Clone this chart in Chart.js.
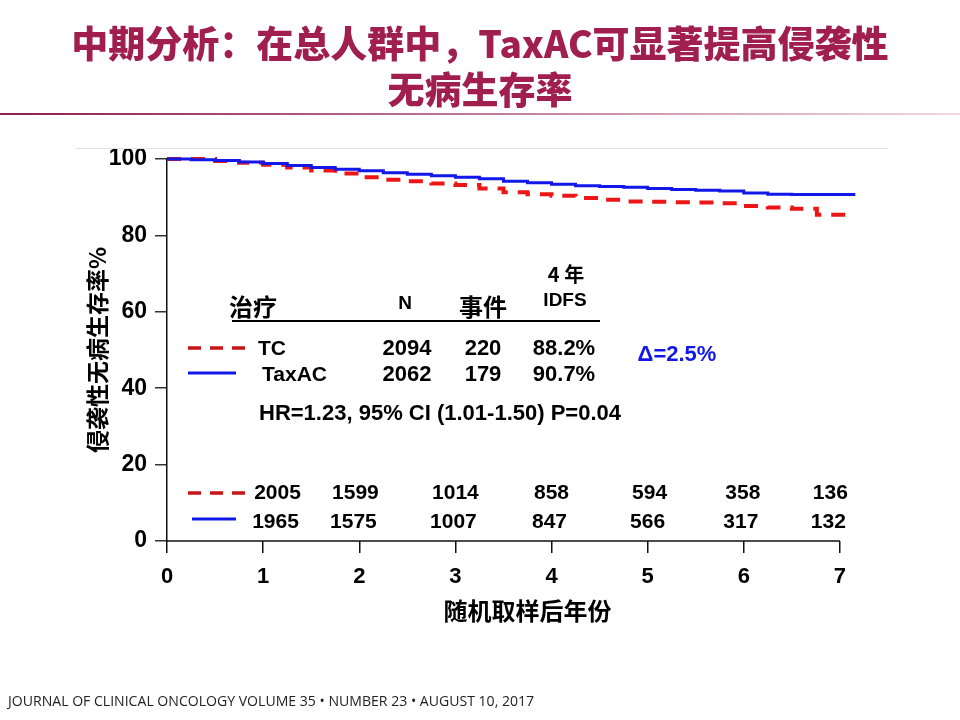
<!DOCTYPE html>
<html>
<head>
<meta charset="utf-8">
<script src="https://cdn.jsdelivr.net/npm/chart.js@4.4.1/dist/chart.umd.min.js"></script>
<style>
  body { margin: 0; width: 960px; height: 720px; overflow: hidden; background: #fff; position: relative; }
  #wrap { position: absolute; left: 0; top: 0; width: 960px; height: 720px; }
  .t { position: absolute; white-space: nowrap; transform: translate(-50%, -50%); font-family: "Liberation Sans", Arial, sans-serif; font-weight: bold; color: #000; font-size: 21px; z-index: 2; }
  .cjk { font-family: "Noto Sans CJK SC", sans-serif; font-weight: 900; }
  .title { color: #a01f4e; font-size: 37px; }
  #rule { position: absolute; left: 0; top: 113px; width: 960px; height: 2px; background: linear-gradient(to right, #8e1d50, #f2d6e4); }
  #foot { position: absolute; left: 8px; top: 690px; font-family: "Open Sans", sans-serif; font-size: 15px; color: #222; white-space: nowrap; transform-origin: 0 0; }
</style>
</head>
<body>
<div id="wrap"><canvas id="c" width="960" height="720"></canvas></div>
<div id="rule"></div>
<div id="foot">JOURNAL OF CLINICAL ONCOLOGY VOLUME 35 • NUMBER 23 • AUGUST 10, 2017</div>
<script>
// Kaplan-Meier curves (years, IDFS %)
const taxacTime = [0, 0.25, 0.5, 0.75, 1.0, 1.25, 1.5, 1.75, 2.0, 2.25, 2.5, 2.75, 3.0, 3.25, 3.5, 3.75, 4.0, 4.25, 4.5, 4.75, 5.0, 5.25, 5.5, 5.75, 6.0, 6.25, 6.5, 7.16];
const taxacSurv = [100, 99.8, 99.6, 99.2, 98.8, 98.3, 97.8, 97.3, 96.9, 96.4, 96.0, 95.6, 95.2, 94.8, 94.2, 93.8, 93.4, 93.0, 92.8, 92.6, 92.3, 92.0, 91.8, 91.6, 91.1, 90.8, 90.7, 90.7];
const tcTime = [0, 0.25, 0.5, 0.75, 1.0, 1.25, 1.5, 1.75, 2.0, 2.25, 2.5, 2.75, 3.0, 3.25, 3.5, 3.75, 4.0, 4.25, 4.5, 4.75, 5.0, 5.25, 5.5, 5.75, 6.0, 6.25, 6.5, 6.76, 7.14];
const tcSurv = [100, 100, 99.5, 99.0, 98.5, 97.8, 97.0, 96.2, 95.2, 94.6, 94.2, 93.6, 93.2, 92.3, 91.3, 90.8, 90.4, 89.8, 89.3, 88.9, 88.8, 88.7, 88.6, 88.4, 87.7, 87.3, 87.0, 85.4, 85.4];

const xTicks = [0, 1, 2, 3, 4, 5, 6, 7];
const yTicks = [0, 20, 40, 60, 80, 100];

// numbers at risk
const atRiskTC = [2005, 1599, 1014, 858, 594, 358, 136];
const atRiskTaxAC = [1965, 1575, 1007, 847, 566, 317, 132];
const atRiskAt = [1.15, 1.96, 3.0, 4.0, 5.02, 5.99, 6.9];

// summary table
const arms = ['TC', 'TaxAC'];
const nPatients = [2094, 2062];
const events = [220, 179];
const idfs4 = ['88.2%', '90.7%'];

const RED = 'rgb(236,22,22)';
const BLUE = 'rgb(18,24,232)';

function txt(s, x, y, extra) {
  const d = document.createElement('div');
  d.className = 't';
  d.textContent = s;
  d.style.left = x + 'px';
  d.style.top = y + 'px';
  if (extra) Object.assign(d.style, extra);
  document.body.appendChild(d);
  return d;
}

const extras = {
  id: 'extras',
  afterDraw(chart) {
    const { ctx, scales: { x, y } } = chart;
    ctx.save();
    // x axis line only spans 0..7
    ctx.strokeStyle = '#111';
    ctx.lineWidth = 1.5;
    ctx.beginPath();
    ctx.moveTo(x.getPixelForValue(0), y.getPixelForValue(0));
    ctx.lineTo(x.getPixelForValue(7), y.getPixelForValue(0));
    ctx.stroke();
    // faint frame line at the top
    ctx.strokeStyle = '#e4e4e4';
    ctx.lineWidth = 1;
    ctx.beginPath();
    ctx.moveTo(75, 148.5);
    ctx.lineTo(x.right, 148.5);
    ctx.stroke();
    // legend samples
    ctx.lineWidth = 3.5;
    ctx.strokeStyle = 'rgb(200,20,20)';
    ctx.setLineDash([13, 9]);
    ctx.beginPath(); ctx.moveTo(188, 348); ctx.lineTo(245, 348); ctx.stroke();
    ctx.beginPath(); ctx.moveTo(188, 493); ctx.lineTo(245, 493); ctx.stroke();
    ctx.setLineDash([]);
    ctx.strokeStyle = BLUE;
    ctx.lineWidth = 3;
    ctx.beginPath(); ctx.moveTo(188, 373); ctx.lineTo(236, 373); ctx.stroke();
    ctx.beginPath(); ctx.moveTo(192, 519); ctx.lineTo(236, 519); ctx.stroke();
    // table header rule
    ctx.strokeStyle = '#000';
    ctx.lineWidth = 2;
    ctx.beginPath(); ctx.moveTo(232, 321); ctx.lineTo(600, 321); ctx.stroke();
    ctx.restore();
  }
};

const chart = new Chart(document.getElementById('c'), {
  type: 'line',
  data: {
    datasets: [
      {
        label: 'TaxAC',
        data: taxacTime.map((t, i) => ({ x: t, y: taxacSurv[i] })),
        borderColor: BLUE,
        borderWidth: 3,
        stepped: true,
        pointRadius: 0,
        clip: false
      },
      {
        label: 'TC',
        data: tcTime.map((t, i) => ({ x: t, y: tcSurv[i] })),
        borderColor: RED,
        borderWidth: 4,
        borderDash: [14, 10],
        stepped: true,
        pointRadius: 0,
        clip: false
      }
    ]
  },
  options: {
    responsive: false,
    animation: false,
    devicePixelRatio: 1,
    layout: { padding: { left: 0, right: 72, top: 159, bottom: 0 } },
    plugins: { legend: { display: false }, tooltip: { enabled: false } },
    scales: {
      x: {
        type: 'linear',
        min: 0,
        max: 7.5,
        afterBuildTicks: s => { s.ticks = xTicks.map(v => ({ value: v })); },
        afterFit: s => { s.height = 179; },
        border: { display: false },
        grid: { drawOnChartArea: false, drawTicks: true, tickLength: 12, color: '#111', lineWidth: 1.5 },
        ticks: { color: '#000', padding: 11, font: { family: 'Liberation Sans', size: 22, weight: 'bold' } },
        title: {
          display: true,
          text: '随机取样后年份',
          color: '#000',
          font: { family: 'Noto Sans CJK SC', size: 24, weight: 'bold' },
          padding: { top: 0, bottom: 95 }
        }
      },
      y: {
        min: 0,
        max: 100,
        afterBuildTicks: s => { s.ticks = yTicks.map(v => ({ value: v })); },
        afterFit: s => { s.width = 167; },
        border: { display: true, color: '#111', width: 1.5 },
        grid: { drawOnChartArea: false, drawTicks: true, tickLength: 12, color: '#333', lineWidth: 1.5 },
        ticks: { color: '#000', padding: 8, font: { family: 'Liberation Sans', size: 23, weight: 'bold' } },
        title: {
          display: true,
          text: '侵袭性无病生存率%',
          color: '#000',
          font: { family: 'Noto Sans CJK SC', size: 23, weight: 'bold' },
          padding: { top: 83, bottom: 0 }
        }
      }
    }
  },
  plugins: [extras]
});

// title
txt('中期分析：在总人群中，TaxAC可显著提高侵袭性', 480, 42).className = 't cjk title';
txt('无病生存率', 480, 88).className = 't cjk title';

// summary table
txt('4 年', 566, 273, { fontFamily: 'Noto Sans CJK SC', fontSize: '20px' });
txt('治疗', 253, 305, { fontFamily: 'Noto Sans CJK SC', fontSize: '24px' });
txt('N', 405, 303, { fontSize: '19px' });
txt('事件', 483, 305, { fontFamily: 'Noto Sans CJK SC', fontSize: '24px' });
txt('IDFS', 565, 300, { fontSize: '19px' });
const rowY = [348, 374];
arms.forEach((a, i) => {
  const d = txt(a, 0, rowY[i]);
  d.style.transform = 'translate(0,-50%)';
  d.style.left = (i === 0 ? 258 : 262) + 'px';
  txt(String(nPatients[i]), 407, rowY[i], { fontSize: '22px' });
  txt(String(events[i]), 483, rowY[i], { fontSize: '22px' });
  txt(idfs4[i], 564, rowY[i], { fontSize: '22px' });
});
txt('Δ=2.5%', 677, 354, { color: BLUE, fontSize: '22px' });
txt('HR=1.23, 95% CI (1.01-1.50) P=0.04', 440, 413, { fontSize: '22px' });

// numbers at risk under the curves
const xs = chart.scales.x;
atRiskTC.forEach((v, i) => txt(String(v), xs.getPixelForValue(atRiskAt[i]), 492));
atRiskTaxAC.forEach((v, i) => txt(String(v), xs.getPixelForValue(atRiskAt[i]) - 2, 521));

// footer fitted to its width in the slide
const foot = document.getElementById('foot');
foot.style.transform = 'scaleX(' + (526 / foot.offsetWidth) + ')';
</script>
</body>
</html>
